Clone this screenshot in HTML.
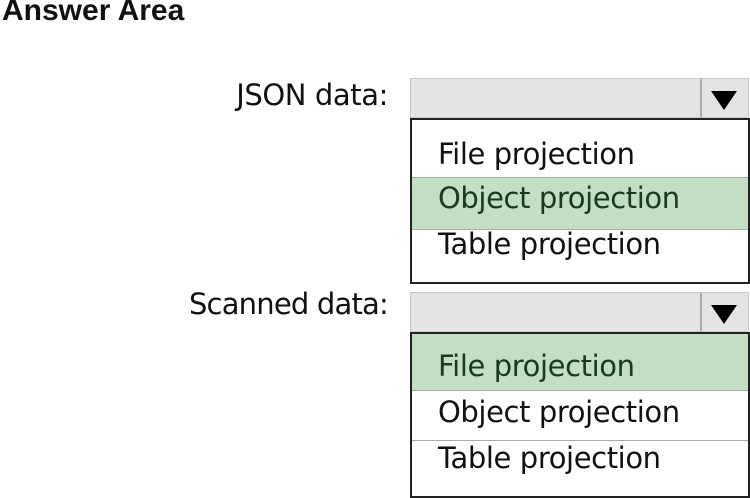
<!DOCTYPE html>
<html><head><style>
body{margin:0;width:750px;height:497px;background:#fff;position:relative;overflow:hidden;font-family:"DejaVu Sans","Liberation Sans",sans-serif;color:#111}
.a{position:absolute}
.t{font-size:29px;letter-spacing:-0.4px;white-space:nowrap}
.bar{position:absolute;left:410px;width:337px;height:38px;background:#e4e4e4;border:1px solid #c8c8c8}
.div{position:absolute;left:289px;top:0;width:2px;height:38px;background:#aaa}
.arr{position:absolute;left:300px;top:12px;width:0;height:0;border-left:13px solid transparent;border-right:13px solid transparent;border-top:19px solid #000}
.box{position:absolute;left:410px;width:336px;border:2px solid #222;background:#fff}
.g{position:absolute;left:0;right:0;background:#c3dfc3;border-top:1px solid #aaa;border-bottom:1px solid #aaa}
</style></head><body>
<div class="a" style="left:2px;top:-6px;font-weight:bold;font-size:30px;font-family:'Liberation Sans',sans-serif;letter-spacing:0px">Answer Area</div>
<div class="a t" style="right:362px;top:78px">JSON data:</div>
<div class="bar" style="top:78px"><div class="div"></div><div class="arr"></div></div>
<div class="box" style="top:118px;height:162px">
 <div class="g" style="top:57px;height:51px"></div>
 <div class="a t" style="left:26px;top:17px">File projection</div>
 <div class="a t" style="left:26px;top:61px;color:#1a3a1a">Object projection</div>
 <div class="a t" style="left:26px;top:107px">Table projection</div>
</div>
<div class="a t" style="right:362px;top:287px;letter-spacing:-0.8px">Scanned data:</div>
<div class="bar" style="top:292px"><div class="div"></div><div class="arr"></div></div>
<div class="box" style="top:332px;height:162px">
 <div class="g" style="top:0;height:56px;border-top:none"></div>
 <div class="a" style="left:0;right:0;top:106px;height:1px;background:#aaa"></div>
 <div class="a t" style="left:26px;top:15px;color:#1a3a1a">File projection</div>
 <div class="a t" style="left:26px;top:61px">Object projection</div>
 <div class="a t" style="left:26px;top:107px">Table projection</div>
</div>
</body></html>
